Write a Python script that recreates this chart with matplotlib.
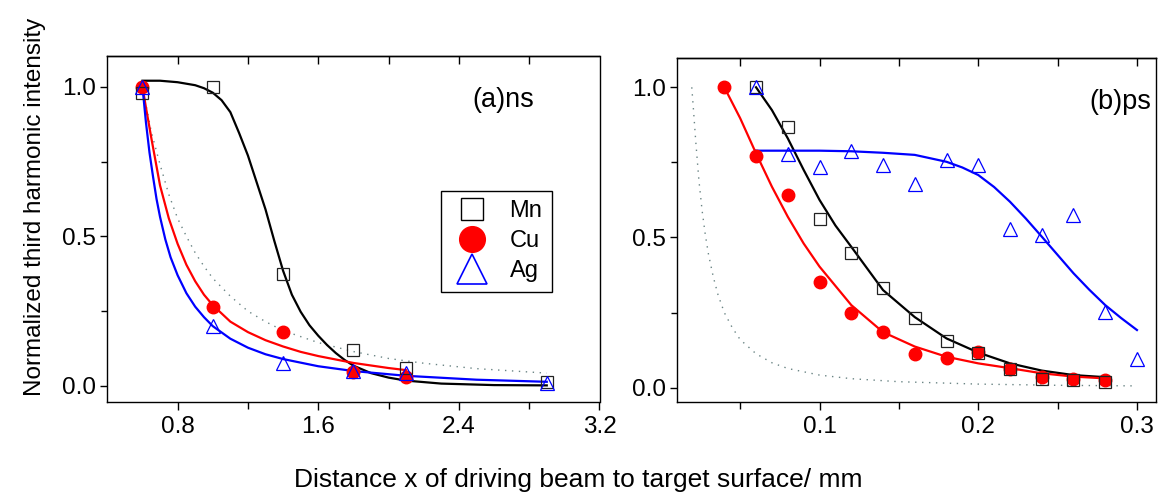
import matplotlib
matplotlib.use("Agg")
import matplotlib.pyplot as plt
from matplotlib.lines import Line2D
from matplotlib.ticker import FixedLocator, FormatStrFormatter

plt.rcParams['font.family'] = ['Liberation Sans', 'DejaVu Sans']

# ---------------- data: (a) ns ----------------
ns_x = [0.6, 1.0, 1.4, 1.8, 2.1, 2.9]
mn_ns = [0.98, 1.0, 0.373, 0.12, 0.059, 0.014]
cu_ns_x = [0.6, 1.0, 1.4, 1.8, 2.1]
cu_ns = [1.0, 0.264, 0.18, 0.047, 0.029]
ag_ns = [1.0, 0.2, 0.076, 0.051, 0.044, 0.009]

# fit / reference curves
mn_fit_ns_x = [0.60, 0.70, 0.80, 0.90, 0.95, 1.00, 1.05, 1.10, 1.15, 1.20, 1.25, 1.30,
               1.35, 1.40, 1.45, 1.50, 1.55, 1.60, 1.65, 1.70, 1.75, 1.80, 1.90, 2.00,
               2.10, 2.30, 2.60, 2.90]
mn_fit_ns_y = [1.02, 1.02, 1.015, 1.005, 0.995, 0.98, 0.955, 0.915, 0.845, 0.77, 0.68,
               0.59, 0.485, 0.385, 0.305, 0.248, 0.203, 0.168, 0.137, 0.11, 0.087,
               0.068, 0.043, 0.028, 0.018, 0.008, 0.003, 0.002]
cu_fit_ns_x = [0.60, 0.62, 0.65, 0.70, 0.75, 0.80, 0.85, 0.90, 0.95, 1.00, 1.10, 1.20,
               1.30, 1.40, 1.50, 1.60, 1.80, 2.00, 2.10]
cu_fit_ns_y = [1.0, 0.93, 0.83, 0.67, 0.56, 0.475, 0.405, 0.35, 0.305, 0.27, 0.215,
               0.18, 0.153, 0.132, 0.114, 0.1, 0.077, 0.06, 0.053]
ag_fit_ns_x = [0.60, 0.62, 0.64, 0.66, 0.68, 0.70, 0.73, 0.76, 0.80, 0.85, 0.90, 0.95,
               1.00, 1.10, 1.20, 1.30, 1.40, 1.60, 1.80, 2.10, 2.50, 2.90]
ag_fit_ns_y = [1.0, 0.88, 0.78, 0.70, 0.625, 0.565, 0.49, 0.43, 0.37, 0.31, 0.265,
               0.23, 0.2, 0.158, 0.128, 0.106, 0.09, 0.066, 0.05, 0.034, 0.021, 0.014]
dot_ns_x = [0.60, 0.62, 0.65, 0.70, 0.75, 0.80, 0.85, 0.90, 0.95, 1.00, 1.10, 1.20,
            1.30, 1.40, 1.60, 1.80, 2.00, 2.20, 2.50, 2.90]
dot_ns_y = [1.0, 0.94, 0.85, 0.74, 0.64, 0.56, 0.5, 0.445, 0.4, 0.36, 0.3, 0.25,
            0.215, 0.185, 0.145, 0.115, 0.092, 0.076, 0.058, 0.043]

# ---------------- data: (b) ps ----------------
mn_ps_x = [0.06, 0.08, 0.10, 0.12, 0.14, 0.16, 0.18, 0.20, 0.22, 0.24, 0.26, 0.28]
mn_ps = [1.0, 0.867, 0.561, 0.45, 0.331, 0.231, 0.157, 0.117, 0.062, 0.028, 0.026, 0.02]
cu_ps_x = [0.04, 0.06, 0.08, 0.10, 0.12, 0.14, 0.16, 0.18, 0.20, 0.22, 0.24, 0.26, 0.28]
cu_ps = [1.0, 0.77, 0.64, 0.353, 0.247, 0.186, 0.112, 0.10, 0.12, 0.061, 0.037, 0.028, 0.026]
ag_ps_x = [0.06, 0.08, 0.10, 0.12, 0.14, 0.16, 0.18, 0.20, 0.22, 0.24, 0.26, 0.28, 0.30]
ag_ps = [1.0, 0.778, 0.736, 0.789, 0.74, 0.677, 0.757, 0.741, 0.527, 0.508, 0.574, 0.253, 0.095]

mn_fit_ps_x = [0.06, 0.07, 0.08, 0.09, 0.10, 0.11, 0.12, 0.13, 0.14, 0.16, 0.18, 0.20,
               0.22, 0.24, 0.26, 0.28]
mn_fit_ps_y = [1.0, 0.924, 0.83, 0.725, 0.625, 0.54, 0.469, 0.397, 0.325, 0.235, 0.164,
               0.117, 0.081, 0.057, 0.042, 0.035]
cu_fit_ps_x = [0.04, 0.05, 0.06, 0.07, 0.08, 0.09, 0.10, 0.12, 0.14, 0.16, 0.18, 0.20,
               0.22, 0.24, 0.26, 0.28]
cu_fit_ps_y = [1.0, 0.897, 0.78, 0.669, 0.569, 0.48, 0.403, 0.275, 0.185, 0.137, 0.103,
               0.081, 0.065, 0.048, 0.037, 0.031]
ag_fit_ps_x = [0.06, 0.08, 0.10, 0.12, 0.14, 0.16, 0.18, 0.19, 0.20, 0.21, 0.22, 0.23,
               0.24, 0.25, 0.26, 0.27, 0.28, 0.29, 0.30]
ag_fit_ps_y = [0.789, 0.789, 0.789, 0.787, 0.782, 0.775, 0.752, 0.733, 0.708, 0.668,
               0.619, 0.563, 0.503, 0.442, 0.381, 0.326, 0.275, 0.232, 0.192]
dot_ps_x = [0.0195, 0.0205, 0.022, 0.024, 0.026, 0.028, 0.030, 0.033, 0.036, 0.040,
            0.045, 0.050, 0.060, 0.070, 0.080, 0.10, 0.12, 0.15, 0.20, 0.25, 0.30]
dot_ps_y = [1.0, 0.93, 0.82, 0.69, 0.59, 0.51, 0.445, 0.37, 0.31, 0.25, 0.2, 0.16,
            0.113, 0.083, 0.064, 0.042, 0.03, 0.02, 0.012, 0.008, 0.006]

labels = ['Mn', 'Cu', 'Ag']

W, H = 1161, 500
fig = plt.figure(figsize=(W / 100, H / 100), dpi=100)


def frac_axes(x0, x1, ytop, ybot):
    return fig.add_axes([x0 / W, 1 - ybot / H, (x1 - x0) / W, (ybot - ytop) / H])


axL = frac_axes(107.3, 599.5, 56.0, 401.7)
axR = frac_axes(676.7, 1156.0, 57.7, 401.7)

fit_lw = 1.6
dot_style = dict(color='#6a8484', lw=1.0, linestyle=(0, (1.0, 4.0)))
sq_style = dict(marker='s', ms=8.2, mfc='none', mec='#222222', mew=0.9, ls='none')
ci_style = dict(marker='o', ms=9, mfc='red', mec='red', ls='none')
tr_style = dict(marker='^', ms=10, mfc='none', mec='blue', mew=0.9, ls='none')

# (a) ns
axL.plot(dot_ns_x, dot_ns_y, **dot_style)
axL.plot(mn_fit_ns_x, mn_fit_ns_y, color='black', lw=fit_lw)
axL.plot(cu_fit_ns_x, cu_fit_ns_y, color='red', lw=fit_lw)
axL.plot(ag_fit_ns_x, ag_fit_ns_y, color='blue', lw=fit_lw)
axL.plot(cu_ns_x, cu_ns, **ci_style)
axL.plot(ns_x, mn_ns, **sq_style)
axL.plot(ns_x, ag_ns, **tr_style)

# (b) ps
axR.plot(dot_ps_x, dot_ps_y, **dot_style)
axR.plot(mn_fit_ps_x, mn_fit_ps_y, color='black', lw=fit_lw)
axR.plot(cu_fit_ps_x, cu_fit_ps_y, color='red', lw=fit_lw)
axR.plot(ag_fit_ps_x, ag_fit_ps_y, color='blue', lw=fit_lw)
axR.plot(cu_ps_x, cu_ps, **ci_style)
axR.plot(mn_ps_x, mn_ps, **sq_style)
axR.plot(ag_ps_x, ag_ps, **tr_style)

axL.set_xlim(0.4, 3.2)
axL.set_ylim(-0.0525, 1.1026)
axR.set_xlim(0.01, 0.312)
axR.set_ylim(-0.0466, 1.0985)

tick_fs = 17.5
for ax in (axL, axR):
    for s in ax.spines.values():
        s.set_linewidth(1.0)
    ax.yaxis.set_major_locator(FixedLocator([0.0, 0.5, 1.0]))
    ax.yaxis.set_minor_locator(FixedLocator([0.25, 0.75]))
    ax.tick_params(axis='y', which='both', direction='out', left=True, right=False,
                   labelsize=tick_fs, pad=3, width=1.0)
    ax.tick_params(axis='y', which='major', length=5)
    ax.tick_params(axis='y', which='minor', length=4)
    ax.tick_params(axis='x', which='both', bottom=True, top=False, direction='out',
                   labelsize=tick_fs, pad=4, width=1.0)
    ax.tick_params(axis='x', which='major', length=6)
    ax.tick_params(axis='x', which='minor', length=5)
    ax.yaxis.set_major_formatter(FormatStrFormatter('%.1f'))

axL.xaxis.set_major_locator(FixedLocator([0.8, 1.6, 2.4, 3.2]))
axL.xaxis.set_minor_locator(FixedLocator([1.2, 2.0, 2.8]))
axL.xaxis.set_major_formatter(FormatStrFormatter('%.1f'))
axR.xaxis.set_major_locator(FixedLocator([0.1, 0.2, 0.3]))
axR.xaxis.set_minor_locator(FixedLocator([0.05, 0.15, 0.25]))
axR.xaxis.set_major_formatter(FormatStrFormatter('%.1f'))

# inward ticks on the top spine
for ax, tks in ((axL, [0.8, 1.2, 1.6, 2.0, 2.4, 2.8]),
                (axR, [0.05, 0.1, 0.15, 0.2, 0.25, 0.3])):
    sec = ax.secondary_xaxis('top')
    sec.set_xticks(tks)
    sec.tick_params(axis='x', direction='in', length=6, width=1.0, labeltop=False)
    sec.spines['top'].set_linewidth(1.0)

axL.text(0.805, 0.873, '(a)ns', transform=axL.transAxes, ha='center', va='center',
         fontsize=19.5)
axR.text(0.925, 0.871, '(b)ps', transform=axR.transAxes, ha='center', va='center',
         fontsize=19.5)

handles = [
    Line2D([], [], marker='s', ms=15.5, mfc='none', mec='black', mew=1.0, ls='none'),
    Line2D([], [], marker='o', ms=18.5, mfc='red', mec='red', ls='none'),
    Line2D([], [], marker='^', ms=21, mfc='none', mec='blue', mew=1.2, ls='none'),
]
leg = axL.legend(handles, labels, loc='upper left', bbox_to_anchor=(0.678, 0.6095),
                 fontsize=17, frameon=True, fancybox=False, framealpha=1,
                 edgecolor='black', borderpad=0.4, labelspacing=0.34,
                 handlelength=1.8, handletextpad=0.7, borderaxespad=0)
leg.get_frame().set_linewidth(1.0)

fig.text(35 / W, 1 - 207 / H, 'Normalized third harmonic intensity', rotation=90,
         ha='center', va='center', fontsize=17.5)
fig.text(578 / W, 1 - 480 / H, 'Distance x of driving beam to target surface/ mm',
         ha='center', va='center', fontsize=19)

fig.savefig('out.png', dpi=100)
